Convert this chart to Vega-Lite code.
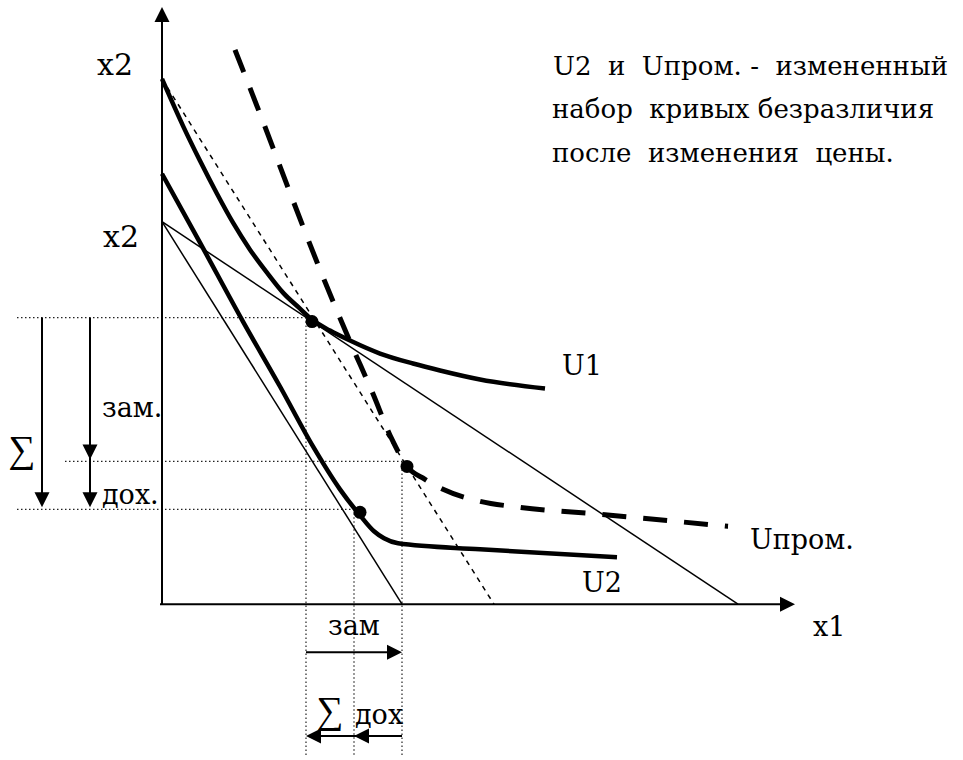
{
  "$schema": "https://vega.github.io/schema/vega-lite/v6.json",
  "width": 963,
  "height": 760,
  "padding": 0,
  "autosize": {"type": "fit", "contains": "padding"},
  "background": "white",
  "config": {"view": {"stroke": null}},
  "datasets": {
    "segs": [
      {"g": "guide", "id": "h1", "o": 0, "x": -145, "y": 287},
      {"g": "guide", "id": "h1", "o": 1, "x": 150, "y": 287},
      {"g": "guide", "id": "h2", "o": 0, "x": -97, "y": 143},
      {"g": "guide", "id": "h2", "o": 1, "x": 245, "y": 143},
      {"g": "guide", "id": "h3", "o": 0, "x": -145, "y": 95},
      {"g": "guide", "id": "h3", "o": 1, "x": 198, "y": 95},
      {"g": "guide", "id": "v1", "o": 0, "x": 144, "y": 287},
      {"g": "guide", "id": "v1", "o": 1, "x": 144, "y": -153},
      {"g": "guide", "id": "v2", "o": 0, "x": 192, "y": 95},
      {"g": "guide", "id": "v2", "o": 1, "x": 192, "y": -153},
      {"g": "guide", "id": "v3", "o": 0, "x": 240, "y": 143},
      {"g": "guide", "id": "v3", "o": 1, "x": 240, "y": -153},
      {"g": "axis", "id": "ay", "o": 0, "x": 0, "y": 0},
      {"g": "axis", "id": "ay", "o": 1, "x": 0, "y": 586},
      {"g": "axis", "id": "ax", "o": 0, "x": -2, "y": 0},
      {"g": "axis", "id": "ax", "o": 1, "x": 622, "y": 0},
      {"g": "shaft", "id": "a1", "o": 0, "x": -120, "y": 287},
      {"g": "shaft", "id": "a1", "o": 1, "x": -120, "y": 100},
      {"g": "shaft", "id": "a2", "o": 0, "x": -72, "y": 287},
      {"g": "shaft", "id": "a2", "o": 1, "x": -72, "y": 100},
      {"g": "shaft", "id": "a3", "o": 0, "x": 144, "y": -48},
      {"g": "shaft", "id": "a3", "o": 1, "x": 236, "y": -48},
      {"g": "shaft", "id": "a4", "o": 0, "x": 148, "y": -132},
      {"g": "shaft", "id": "a4", "o": 1, "x": 240, "y": -132},
      {"g": "budget", "id": "b1", "o": 0, "x": 0, "y": 383},
      {"g": "budget", "id": "b1", "o": 1, "x": 576, "y": 0},
      {"g": "budget", "id": "b2", "o": 0, "x": 0, "y": 383},
      {"g": "budget", "id": "b2", "o": 1, "x": 240, "y": 0},
      {"g": "comp", "id": "c", "o": 0, "x": 0, "y": 526},
      {"g": "comp", "id": "c", "o": 1, "x": 332, "y": 0},
      {"g": "U", "id": "U1", "o": 0, "x": 0, "y": 526},
      {"g": "U", "id": "U1", "o": 1, "x": 21, "y": 479},
      {"g": "U", "id": "U1", "o": 2, "x": 38, "y": 444},
      {"g": "U", "id": "U1", "o": 3, "x": 55, "y": 411},
      {"g": "U", "id": "U1", "o": 4, "x": 71, "y": 382},
      {"g": "U", "id": "U1", "o": 5, "x": 88, "y": 355},
      {"g": "U", "id": "U1", "o": 6, "x": 105, "y": 332},
      {"g": "U", "id": "U1", "o": 7, "x": 121, "y": 312},
      {"g": "U", "id": "U1", "o": 8, "x": 138, "y": 296},
      {"g": "U", "id": "U1", "o": 9, "x": 150, "y": 285},
      {"g": "U", "id": "U1", "o": 10, "x": 168, "y": 274},
      {"g": "U", "id": "U1", "o": 11, "x": 188, "y": 264},
      {"g": "U", "id": "U1", "o": 12, "x": 218, "y": 251},
      {"g": "U", "id": "U1", "o": 13, "x": 251, "y": 241},
      {"g": "U", "id": "U1", "o": 14, "x": 278, "y": 234},
      {"g": "U", "id": "U1", "o": 15, "x": 318, "y": 225},
      {"g": "U", "id": "U1", "o": 16, "x": 383, "y": 216},
      {"g": "U", "id": "U2", "o": 0, "x": 0, "y": 431},
      {"g": "U", "id": "U2", "o": 1, "x": 38, "y": 362},
      {"g": "U", "id": "U2", "o": 2, "x": 81, "y": 283},
      {"g": "U", "id": "U2", "o": 3, "x": 118, "y": 218},
      {"g": "U", "id": "U2", "o": 4, "x": 151, "y": 158},
      {"g": "U", "id": "U2", "o": 5, "x": 178, "y": 115},
      {"g": "U", "id": "U2", "o": 6, "x": 198, "y": 89},
      {"g": "U", "id": "U2", "o": 7, "x": 212, "y": 73},
      {"g": "U", "id": "U2", "o": 8, "x": 222, "y": 66},
      {"g": "U", "id": "U2", "o": 9, "x": 236, "y": 61},
      {"g": "U", "id": "U2", "o": 10, "x": 318, "y": 55},
      {"g": "U", "id": "U2", "o": 11, "x": 455, "y": 47},
      {"g": "Up", "id": "Up", "o": 0, "x": 73, "y": 555},
      {"g": "Up", "id": "Up", "o": 1, "x": 98, "y": 491},
      {"g": "Up", "id": "Up", "o": 2, "x": 128, "y": 412},
      {"g": "Up", "id": "Up", "o": 3, "x": 158, "y": 335},
      {"g": "Up", "id": "Up", "o": 4, "x": 188, "y": 263},
      {"g": "Up", "id": "Up", "o": 5, "x": 210, "y": 213},
      {"g": "Up", "id": "Up", "o": 6, "x": 230, "y": 165},
      {"g": "Up", "id": "Up", "o": 7, "x": 245, "y": 138},
      {"g": "Up", "id": "Up", "o": 8, "x": 263, "y": 125},
      {"g": "Up", "id": "Up", "o": 9, "x": 281, "y": 115},
      {"g": "Up", "id": "Up", "o": 10, "x": 318, "y": 103},
      {"g": "Up", "id": "Up", "o": 11, "x": 358, "y": 97},
      {"g": "Up", "id": "Up", "o": 12, "x": 438, "y": 90},
      {"g": "Up", "id": "Up", "o": 13, "x": 566, "y": 78}
    ],
    "heads": [
      {"dir": "up", "x": 0, "y": 598},
      {"dir": "right", "x": 633, "y": 0},
      {"dir": "down", "x": -120, "y": 97},
      {"dir": "down", "x": -72, "y": 145},
      {"dir": "down", "x": -72, "y": 97},
      {"dir": "right", "x": 240, "y": -48},
      {"dir": "left", "x": 144, "y": -132},
      {"dir": "left", "x": 192, "y": -132}
    ],
    "dots": [
      {"x": 150, "y": 283},
      {"x": 245, "y": 138},
      {"x": 198, "y": 92}
    ],
    "labels": [
      {"t": "x1", "x": 651, "y": -32},
      {"t": "U1", "x": 400, "y": 230},
      {"t": "Uпром.", "x": 588, "y": 55},
      {"t": "U2", "x": 420, "y": 12},
      {"t": "зам.", "x": -60, "y": 187},
      {"t": "дох.", "x": -60, "y": 100},
      {"t": "зам", "x": 166, "y": -31},
      {"t": "дох", "x": 193, "y": -120}
    ],
    "block": [
      {"t": "U2\u00a0\u00a0и\u00a0\u00a0Uпром.\u00a0-\u00a0\u00a0измененный", "x": 391, "y": 530},
      {"t": "набор\u00a0\u00a0кривых безразличия", "x": 390, "y": 487},
      {"t": "после\u00a0\u00a0изменения\u00a0\u00a0цены.", "x": 390, "y": 443}
    ],
    "x2labels": [
      {"t": "x2", "x": -65, "y": 530},
      {"t": "x2", "x": -59, "y": 358}
    ],
    "sigmas": [
      {"t": "∑", "x": -140, "y": 153},
      {"t": "∑", "x": 168, "y": -108}
    ]
  },
  "encoding": {
    "x": {"field": "x", "type": "quantitative", "scale": {"domain": [-162, 801], "nice": false, "zero": false}, "axis": null},
    "y": {"field": "y", "type": "quantitative", "scale": {"domain": [-155, 605], "nice": false, "zero": false}, "axis": null}
  },
  "layer": [
    {
      "data": {"name": "segs"},
      "transform": [{"filter": "datum.g === 'guide'"}],
      "mark": {"type": "line", "color": "#222", "strokeWidth": 1.2, "strokeDash": [1.5, 2.5]},
      "encoding": {"detail": {"field": "id"}, "order": {"field": "o", "type": "quantitative"}}
    },
    {
      "data": {"name": "segs"},
      "transform": [{"filter": "datum.g === 'axis' || datum.g === 'shaft'"}],
      "mark": {"type": "line", "color": "black", "strokeWidth": 2},
      "encoding": {"detail": {"field": "id"}, "order": {"field": "o", "type": "quantitative"}}
    },
    {
      "data": {"name": "segs"},
      "transform": [{"filter": "datum.g === 'budget'"}],
      "mark": {"type": "line", "color": "black", "strokeWidth": 1.5},
      "encoding": {"detail": {"field": "id"}, "order": {"field": "o", "type": "quantitative"}}
    },
    {
      "data": {"name": "segs"},
      "transform": [{"filter": "datum.g === 'comp'"}],
      "mark": {"type": "line", "color": "black", "strokeWidth": 1.5, "strokeDash": [5, 5]},
      "encoding": {"detail": {"field": "id"}, "order": {"field": "o", "type": "quantitative"}}
    },
    {
      "data": {"name": "segs"},
      "transform": [{"filter": "datum.g === 'U'"}],
      "mark": {"type": "line", "color": "black", "strokeWidth": 4.5, "interpolate": "monotone", "strokeCap": "butt"},
      "encoding": {"detail": {"field": "id"}, "order": {"field": "o", "type": "quantitative"}}
    },
    {
      "data": {"name": "segs"},
      "transform": [{"filter": "datum.g === 'Up'"}],
      "mark": {"type": "line", "color": "black", "strokeWidth": 5, "interpolate": "monotone", "strokeDash": [24, 17]},
      "encoding": {"detail": {"field": "id"}, "order": {"field": "o", "type": "quantitative"}}
    },
    {
      "data": {"name": "dots"},
      "mark": {"type": "point", "shape": "circle", "filled": true, "color": "black", "opacity": 1, "size": 169, "strokeWidth": 0}
    },
    {
      "data": {"name": "heads"},
      "mark": {"type": "point", "filled": true, "color": "black", "opacity": 1, "size": 225, "strokeWidth": 0},
      "encoding": {
        "shape": {"field": "dir", "type": "nominal", "legend": null,
          "scale": {"domain": ["up", "down", "left", "right"],
                    "range": ["M0,0L-1,2L1,2Z", "M0,0L-1,-2L1,-2Z", "M0,0L2,-1L2,1Z", "M0,0L-2,-1L-2,1Z"]}}
      }
    },
    {
      "data": {"name": "labels"},
      "mark": {"type": "text", "align": "left", "baseline": "alphabetic", "font": "DejaVu Serif", "fontSize": 27, "color": "black"},
      "encoding": {"text": {"field": "t"}}
    },
    {
      "data": {"name": "block"},
      "mark": {"type": "text", "align": "left", "baseline": "alphabetic", "font": "DejaVu Serif", "fontSize": 26, "color": "black"},
      "encoding": {"text": {"field": "t"}}
    },
    {
      "data": {"name": "x2labels"},
      "mark": {"type": "text", "align": "left", "baseline": "alphabetic", "font": "DejaVu Serif", "fontSize": 30, "color": "black"},
      "encoding": {"text": {"field": "t"}}
    },
    {
      "data": {"name": "sigmas"},
      "mark": {"type": "text", "align": "center", "baseline": "middle", "font": "serif", "fontSize": 38, "color": "black"},
      "encoding": {"text": {"field": "t"}}
    }
  ]
}
